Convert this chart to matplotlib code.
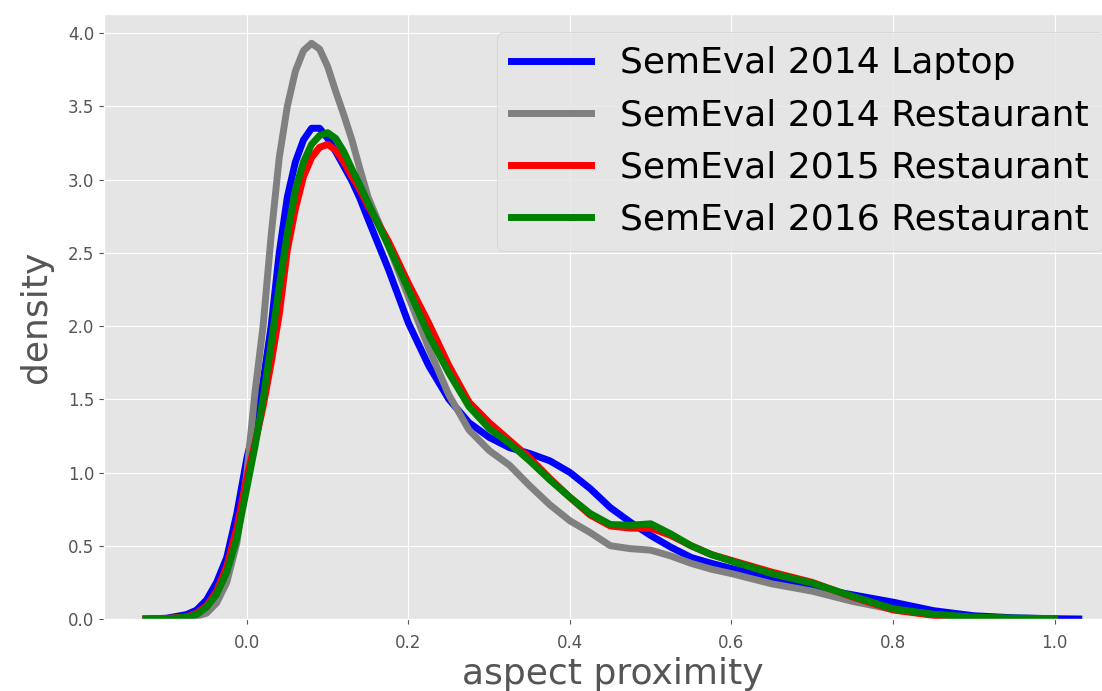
import numpy as np
import matplotlib
matplotlib.use('Agg')
import matplotlib.pyplot as plt

plt.style.use('ggplot')

# aspect proximity grid
x = [-0.125, -0.1, -0.075, -0.0625, -0.05, -0.0375, -0.025, -0.0125,
     0.0, 0.01, 0.02, 0.03, 0.04, 0.05, 0.06, 0.07, 0.08, 0.09,
     0.10, 0.11, 0.12, 0.13, 0.14, 0.15,
     0.175, 0.2, 0.225, 0.25, 0.275, 0.3, 0.325, 0.35, 0.375, 0.4,
     0.425, 0.45, 0.475, 0.5, 0.525, 0.55, 0.575, 0.6,
     0.65, 0.7, 0.75, 0.8, 0.85, 0.9, 0.95, 1.0, 1.03]

nan = np.nan

laptop14 = [0.0, 0.005, 0.03, 0.06, 0.13, 0.25, 0.42, 0.72,
            1.1, 1.33, 1.62, 2.0, 2.5, 2.88, 3.12, 3.27, 3.35, 3.35,
            3.28, 3.19, 3.09, 2.99, 2.87, 2.73,
            2.39, 2.02, 1.73, 1.50, 1.34, 1.24, 1.17, 1.13, 1.08, 1.00,
            0.89, 0.76, 0.66, 0.57, 0.49, 0.42, 0.38, 0.345,
            0.28, 0.215, 0.165, 0.115, 0.057, 0.022, 0.008, 0.002, 0.0]

rest14 = [0.0, 0.002, 0.008, 0.018, 0.04, 0.11, 0.25, 0.52,
          1.0, 1.55, 2.0, 2.62, 3.15, 3.5, 3.74, 3.88, 3.93, 3.89,
          3.77, 3.6, 3.44, 3.27, 3.07, 2.88,
          2.55, 2.2, 1.85, 1.53, 1.29, 1.15, 1.05, 0.91, 0.78, 0.67,
          0.59, 0.50, 0.48, 0.47, 0.43, 0.38, 0.34, 0.31,
          0.24, 0.19, 0.12, 0.065, 0.03, 0.008, 0.002, 0.0, nan]

rest15 = [0.0, 0.003, 0.015, 0.04, 0.09, 0.19, 0.36, 0.62,
          0.97, 1.2, 1.45, 1.75, 2.08, 2.52, 2.8, 3.02, 3.15, 3.22,
          3.24, 3.2, 3.12, 3.02, 2.93, 2.82,
          2.58, 2.29, 2.02, 1.73, 1.48, 1.34, 1.22, 1.10, 0.96, 0.83,
          0.71, 0.635, 0.62, 0.62, 0.57, 0.50, 0.44, 0.40,
          0.32, 0.25, 0.15, 0.062, 0.025, 0.008, 0.003, 0.001, nan]

rest16 = [0.0, 0.002, 0.012, 0.03, 0.08, 0.17, 0.32, 0.55,
          0.9, 1.18, 1.5, 1.88, 2.27, 2.63, 2.93, 3.12, 3.24, 3.30,
          3.32, 3.28, 3.19, 3.07, 2.96, 2.84,
          2.55, 2.25, 1.94, 1.68, 1.45, 1.30, 1.20, 1.08, 0.95, 0.83,
          0.72, 0.645, 0.64, 0.65, 0.58, 0.50, 0.44, 0.395,
          0.31, 0.245, 0.155, 0.07, 0.032, 0.013, 0.006, 0.002, nan]

labels = ['SemEval 2014 Laptop', 'SemEval 2014 Restaurant',
          'SemEval 2015 Restaurant', 'SemEval 2016 Restaurant']
colors = ['blue', 'gray', 'red', 'green']
series = [laptop14, rest14, rest15, rest16]

fig = plt.figure(figsize=(11.02, 6.91), dpi=100)
# axes run slightly past the right edge of the figure, as in the original crop
ax = fig.add_axes([104/1102, 72/691, 1017/1102, 605/691])

for y, c, lab in zip(series, colors, labels):
    ax.plot(x, y, color=c, lw=5, label=lab)

ax.set_xlim(-0.177, 1.0823)
ax.set_ylim(0, 4.13)
ax.set_xticks([0.0, 0.2, 0.4, 0.6, 0.8, 1.0])
ax.set_yticks(np.arange(0, 4.01, 0.5))
ax.tick_params(labelsize=12)
ax.tick_params(axis='x', pad=7)
ax.set_xlabel('aspect proximity', fontsize=26, labelpad=4)
ax.set_ylabel('density', fontsize=26, labelpad=11)
ax.legend(loc='upper right', fontsize=26, handlelength=2.2)

fig.savefig('out.png', dpi=100)
